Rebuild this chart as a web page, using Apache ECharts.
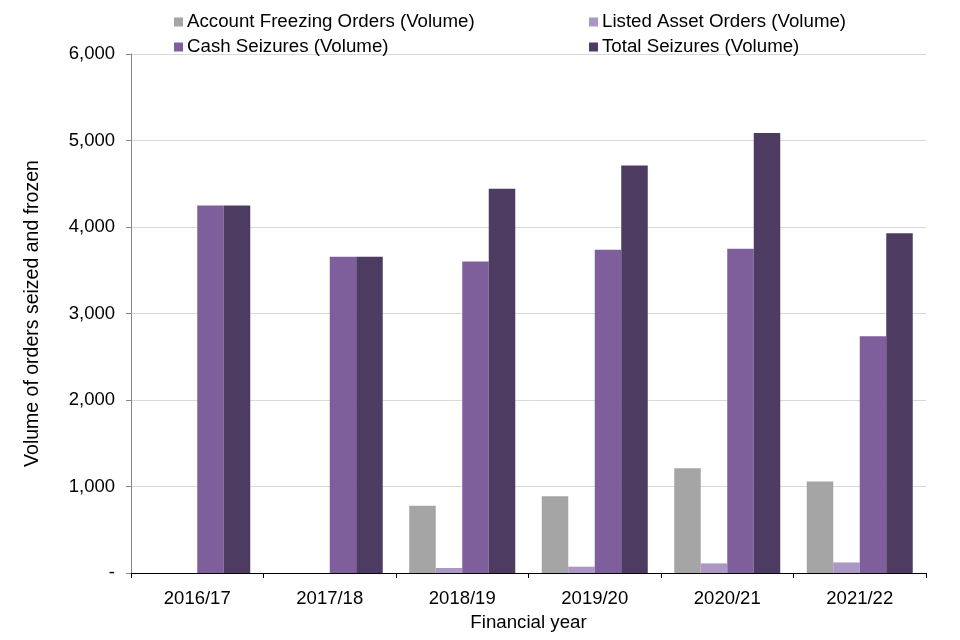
<!DOCTYPE html>
<html lang="en">
<head>
    <meta charset="UTF-8">
    <title>Orders seized and frozen</title>
    <script src="https://cdn.jsdelivr.net/npm/echarts@6/dist/echarts.min.js"></script>
    <style>
        body { margin: 0; background: #fff; }
    </style>
</head>
<body>
    <div id="main" style="width: 960px;height:640px;"></div>
    <script type="text/javascript">
        // values
        var years = ['2016/17', '2017/18', '2018/19', '2019/20', '2020/21', '2021/22'];
        var accountFreezing = [0, 0, 777, 888, 1211, 1057];
        var listedAsset = [0, 0, 58, 73, 111, 122];
        var cashSeizures = [4250, 3655, 3600, 3738, 3750, 2738];
        var totalSeizures = [4250, 3655, 4442, 4711, 5088, 3927];
        var yTicks = [0, 1000, 2000, 3000, 4000, 5000, 6000];

        var font = '"Liberation Sans", Arial, sans-serif';
        var myChart = echarts.init(document.getElementById('main'));

        function fmt(v) {
            if (v === 0) return '-';
            return String(v).replace(/\B(?=(\d{3})+(?!\d))/g, ',');
        }

        function legendBox(left, names) {
            return {
                orient: 'vertical',
                left: left,
                top: 7,
                itemWidth: 9,
                itemHeight: 9,
                itemGap: 5,
                icon: 'rect',
                data: names,
                textStyle: { fontFamily: font, fontSize: 18.7, color: '#000', lineHeight: 20, padding: [0, 0, 0, -1] }
            };
        }

        var option = {
            animation: false,
            textStyle: { fontFamily: font },
            legend: [
                legendBox(169, ['Account Freezing Orders (Volume)', 'Cash Seizures (Volume)']),
                legendBox(584, ['Listed Asset Orders (Volume)', 'Total Seizures (Volume)'])
            ],
            grid: { left: 131, right: 34, top: 54, bottom: 67 },
            xAxis: {
                type: 'category',
                data: years,
                name: 'Financial year',
                nameLocation: 'middle',
                nameGap: 40,
                nameTextStyle: { fontFamily: font, fontSize: 18.7, color: '#000' },
                axisLine: { lineStyle: { color: '#000', width: 1 } },
                axisTick: { show: true, length: 5, lineStyle: { color: '#000' } },
                axisLabel: { fontFamily: font, fontSize: 18.5, color: '#000', margin: 16 }
            },
            yAxis: {
                type: 'value',
                min: yTicks[0],
                max: yTicks[yTicks.length - 1],
                interval: 1000,
                name: 'Volume of orders seized and frozen',
                nameLocation: 'middle',
                nameGap: 88,
                nameTextStyle: { fontFamily: font, fontSize: 19.5, color: '#000' },
                axisLine: { show: true, lineStyle: { color: '#868686' } },
                axisTick: { show: true, length: 5, lineStyle: { color: '#868686' } },
                axisLabel: { fontFamily: font, fontSize: 18.5, color: '#000', margin: 16, formatter: fmt },
                splitLine: { lineStyle: { color: '#d9d9d9' } }
            },
            series: [
                {
                    name: 'Account Freezing Orders (Volume)',
                    type: 'bar',
                    data: accountFreezing,
                    barGap: '0%',
                    barCategoryGap: '20%',
                    itemStyle: { color: '#a5a5a5' }
                },
                {
                    name: 'Listed Asset Orders (Volume)',
                    type: 'bar',
                    data: listedAsset,
                    itemStyle: { color: '#ab97c4' }
                },
                {
                    name: 'Cash Seizures (Volume)',
                    type: 'bar',
                    data: cashSeizures,
                    itemStyle: { color: '#7e5f9b' }
                },
                {
                    name: 'Total Seizures (Volume)',
                    type: 'bar',
                    data: totalSeizures,
                    itemStyle: { color: '#4d3b61' }
                }
            ]
        };
        myChart.setOption(option);
    </script>
</body>
</html>
